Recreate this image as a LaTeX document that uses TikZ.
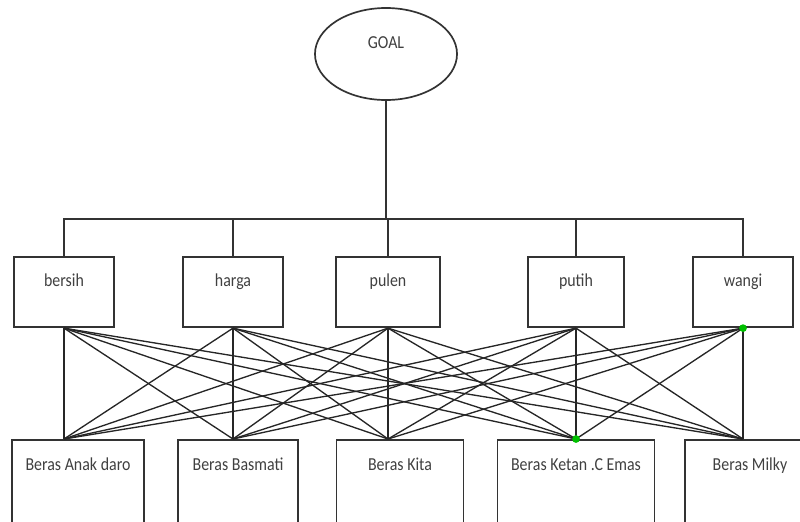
\documentclass[tikz,border=0pt]{standalone}
\usepackage{fontspec}
\setmainfont[FakeStretch=0.87]{Carlito}
\usetikzlibrary{shapes.geometric}

\begin{document}
\begin{tikzpicture}[
  x=0.025cm, y=-0.025cm,
  font=\fontsize{13}{15}\selectfont,
  goal/.style={draw=black!80, ellipse, line width=1.2pt, minimum width=3.55cm,
               minimum height=2.3cm, text height=8pt, text depth=16pt, text=black!75},
  crit/.style={draw=black!80, line width=1.3pt, anchor=north, text height=9pt,
               text depth=17pt, inner xsep=0pt, inner ysep=12pt, text=black!75},
  alt/.style={draw=black!80, line width=1.3pt, anchor=north, text height=9pt,
              text depth=70pt, inner xsep=0pt, inner ysep=12.5pt, text=black!75},
  tree/.style={draw=black!80, line width=1.1pt},
  link/.style={draw=black!85, line width=0.95pt},
  hit/.style={circle, fill=green!75!black, inner sep=0pt, minimum size=5.5pt}
]
\useasboundingbox (0,0) rectangle (800,521);
\clip (0,0) rectangle (800,521);

% ---------- goal ----------
\node[goal] (goal) at (386,54) {GOAL};
\coordinate (bus) at (386,219);

% ---------- criteria ----------
\node[crit, minimum width=2.5cm] (c1) at ( 64,256) {bersih};
\node[crit, minimum width=2.5cm] (c2) at (233,256) {harga};
\node[crit, minimum width=2.6cm] (c3) at (388,256) {pulen};
\node[crit, minimum width=2.4cm] (c4) at (576,256) {putih};
\node[crit, minimum width=2.5cm] (c5) at (743,256) {wangi};

\draw[tree] (goal.south) -- (goal.south |- bus);
\draw[tree] (c1.north) -- (c1.north |- bus) -- (c5.north |- bus) -- (c5.north);
\foreach \i in {2,3,4}
  \draw[tree] (c\i.north) -- (c\i.north |- bus);

% ---------- alternatives ----------
\node[alt, minimum width=3.3cm]   (a1) at ( 78,439) {Beras Anak daro};
\node[alt, minimum width=3.0cm]   (a2) at (238,439) {Beras Basmati};
\node[alt, minimum width=3.175cm] (a3) at (400,439) {Beras Kita};
\node[alt, minimum width=3.925cm] (a4) at (576,439) {Beras Ketan .C Emas};
\node[alt, minimum width=3.25cm]  (a5) at (750,439) {Beras Milky};

% ---------- every criterion to every alternative ----------
\foreach \i in {1,...,5}
  \foreach \j in {1,...,5}
    \draw[link] (c\i.south) -- (c\j.south |- a\j.north);

\node[hit] (g1) at (c5.south) {};
\node[hit] (g2) at (c4.south |- a4.north) {};

\end{tikzpicture}
\end{document}
